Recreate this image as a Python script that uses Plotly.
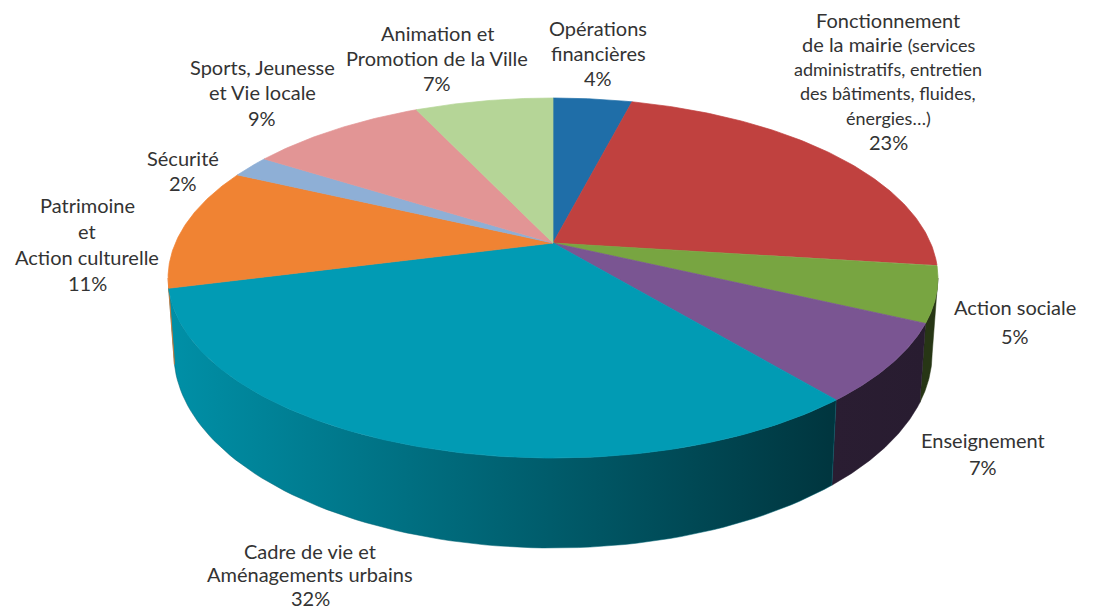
import numpy as np
import plotly.graph_objects as go

# ---------------- data ----------------
categories = [
    "Opérations financières",
    "Fonctionnement de la mairie",
    "Action sociale",
    "Enseignement",
    "Cadre de vie et Aménagements urbains",
    "Patrimoine et Action culturelle",
    "Sécurité",
    "Sports, Jeunesse et Vie locale",
    "Animation et Promotion de la Ville",
]
values = [4, 23, 5, 7, 32, 11, 2, 9, 7]

label_lines = [
    ["Opérations", "financières", "4%"],
    ["Fonctionnement",
     "de la mairie <span style='font-size:18px'>(services</span>",
     "<span style='font-size:18px'>administratifs, entretien</span>",
     "<span style='font-size:18px'>des bâtiments, fluides,</span>",
     "<span style='font-size:18px'>énergies…)</span>",
     "23%"],
    ["Action sociale", "5%"],
    ["Enseignement", "7%"],
    ["Cadre de vie et", "Aménagements urbains", "32%"],
    ["Patrimoine", "et", "Action culturelle", "11%"],
    ["Sécurité", "2%"],
    ["Sports, Jeunesse", "et Vie locale", "9%"],
    ["Animation et", "Promotion de la Ville", "7%"],
]

# ---------------- styles / layout ----------------
top_colors = ["#1f6ea8", "#c0413f", "#78a541", "#7a5592", "#019bb4",
              "#f08333", "#8eafd6", "#e29595", "#b5d597"]
label_pos = [(598, 53), (888, 81), (1015, 321), (983, 453), (310, 574),
             (87, 244), (183, 170), (262, 92), (437, 58)]
label_spacing = [25, 24.4, 29, 27, 23.5, 26, 25, 25.5, 25]

W, H = 1096, 611
CX, CY = 553.0, 243.0      # projected pie centre (pixels)
A, B = 377.6, 173.2        # projected radii
K = 0.1945                 # perspective factor
D = 72.5                   # depth of the pie
BSHRINK = 0.985            # bottom-face shrink (perspective)


def proj(theta_deg, bottom=False):
    t = np.radians(theta_deg)
    u, v = np.sin(t), np.cos(t)
    w = 1 + K * v
    x = A * u / w
    y = -B * v / w
    if bottom:
        x = x * BSHRINK
        y = y + D / w
    return CX + x, CY + y


def hex2rgb(h):
    h = h.lstrip("#")
    return tuple(int(h[i:i + 2], 16) for i in (0, 2, 4))


def shade(h, f):
    r, g, b = hex2rgb(h)
    return "rgb(%d,%d,%d)" % (r * f, g * f, b * f)


def side_factor(x):
    f = 0.93 - 0.58 * (x - 170) / 660.0
    return max(0.33, min(0.95, f))


fig = go.Figure()

cum = np.concatenate([[0], np.cumsum(values)])
angles = cum / cum[-1] * 360.0

theta_left = 360 - np.degrees(np.arccos(-K))
theta_right = np.degrees(np.arccos(-K))

# ---- sides (front part only) ----
for i, cat in enumerate(categories):
    a0 = max(angles[i], theta_right)
    a1 = min(angles[i + 1], theta_left)
    if a1 <= a0:
        continue
    ts = np.linspace(a0, a1, 80)
    xt, yt = proj(ts)
    xb, yb = proj(ts[::-1], bottom=True)
    xs = np.concatenate([xt, xb, xt[:1]])
    ys = np.concatenate([yt, yb, yt[:1]])
    xmin, xmax = float(xs.min()), float(xs.max())
    fig.add_trace(go.Scatter(
        x=xs, y=ys, mode="lines", fill="toself",
        line=dict(width=0.5, color=shade(top_colors[i], side_factor((xmin + xmax) / 2))),
        fillgradient=dict(
            type="horizontal",
            colorscale=[[0, shade(top_colors[i], side_factor(xmin))],
                        [1, shade(top_colors[i], side_factor(xmax))]],
            start=xmin, stop=xmax),
        hoverinfo="skip", showlegend=False))

# ---- top faces ----
for i, cat in enumerate(categories):
    ts = np.linspace(angles[i], angles[i + 1], 120)
    xt, yt = proj(ts)
    xs = np.concatenate([[CX], xt, [CX]])
    ys = np.concatenate([[CY], yt, [CY]])
    fig.add_trace(go.Scatter(
        x=xs, y=ys, mode="lines", fill="toself",
        fillcolor=top_colors[i],
        line=dict(width=0.7, color=top_colors[i]),
        name=cat, text=f"{cat}: {values[i]}%", hoverinfo="text",
        showlegend=False))

# ---- labels ----
annotations = []
for i, lines in enumerate(label_lines):
    lx, ly = label_pos[i]
    n = len(lines)
    for j, txt in enumerate(lines):
        yy = ly + (j - (n - 1) / 2) * label_spacing[i]
        annotations.append(dict(
            x=lx, y=yy, xref="x", yref="y", text=txt, showarrow=False,
            xanchor="center", yanchor="middle",
            font=dict(family="Lato", size=20, color="#333333")))

fig.update_layout(
    width=W, height=H,
    margin=dict(l=0, r=0, t=0, b=0),
    paper_bgcolor="white", plot_bgcolor="white",
    xaxis=dict(range=[0, W], visible=False, fixedrange=True),
    yaxis=dict(range=[H, 0], visible=False, fixedrange=True),
    annotations=annotations,
)

fig.write_html("out.html",
               config={"displayModeBar": False},
               post_script="document.body.style.margin='0';document.body.style.overflow='hidden';")
